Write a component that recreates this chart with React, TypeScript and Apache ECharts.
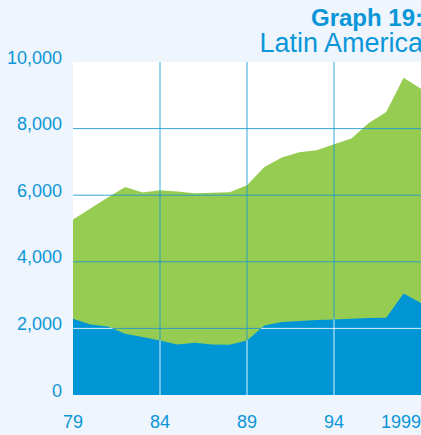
import React, { useEffect, useRef } from "react";
import * as echarts from "echarts";

const years = [1979, 1980, 1981, 1982, 1983, 1984, 1985, 1986, 1987, 1988, 1989, 1990, 1991, 1992, 1993, 1994, 1995, 1996, 1997, 1998, 1999];
const totalValues = [5270, 5600, 5930, 6250, 6080, 6150, 6110, 6060, 6070, 6090, 6300, 6850, 7130, 7290, 7350, 7530, 7700, 8170, 8500, 9530, 9200];
const lowerValues = [2290, 2120, 2060, 1840, 1740, 1640, 1520, 1570, 1520, 1510, 1640, 2090, 2190, 2220, 2250, 2270, 2290, 2310, 2320, 3050, 2760];
const xTickLabels = ["79", "84", "89", "94", "1999"];
const verticalGridYears = [1984, 1989, 1994];
const horizontalGridValues = [2000, 4000, 6000, 8000];
const titleLines = ["Graph 19:", "Latin America"];

const BG = "#eef5fc";
const BLUE = "#0096d6";
const GREEN = "#97cc52";
const TEXT = "#0a96d8";
const GRIDLINE = "#1596d4";

const base = years[0];
const xs = years.map((y) => y - base);

function interp(x: number): number {
  for (let i = 0; i < xs.length - 1; i++) {
    if (x >= xs[i] && x <= xs[i + 1]) {
      const t = (x - xs[i]) / (xs[i + 1] - xs[i]);
      return lowerValues[i] + t * (lowerValues[i + 1] - lowerValues[i]);
    }
  }
  return lowerValues[lowerValues.length - 1];
}

function segmentsAbove(v: number): Array<[number, number]> {
  const segs: Array<[number, number]> = [];
  let start: number | null = null;
  for (let i = 0; i < xs.length - 1; i++) {
    const x0 = xs[i], x1 = xs[i + 1];
    const y0 = lowerValues[i], y1 = lowerValues[i + 1];
    const in0 = y0 > v, in1 = y1 > v;
    if (in0 && start === null) start = x0;
    if (in0 !== in1) {
      const xc = x0 + ((v - y0) / (y1 - y0)) * (x1 - x0);
      if (in0) {
        segs.push([start as number, xc]);
        start = null;
      } else {
        start = xc;
      }
    }
  }
  if (start !== null) segs.push([start, xs[xs.length - 1]]);
  return segs;
}

type GridSpec = { kind: "v" | "h"; value: number };
const gridSpecs: GridSpec[] = [
  ...verticalGridYears.map((y) => ({ kind: "v" as const, value: y - base })),
  ...horizontalGridValues.map((v) => ({ kind: "h" as const, value: v })),
];
const gridData = gridSpecs.map((g) => (g.kind === "v" ? [g.value, 0] : [0, g.value]));

export default function App() {
  const ref = useRef<HTMLDivElement>(null);
  useEffect(() => {
    document.body.style.margin = "0";
    document.body.style.background = BG;
    const chart = echarts.init(ref.current!, null, { renderer: "svg" });
    const tickFont = "'Liberation Sans', Arial, sans-serif";
    chart.setOption({
      animation: false,
      backgroundColor: BG,
      grid: {
        left: 73,
        top: 62,
        right: 0,
        bottom: 40,
        show: true,
        backgroundColor: "#ffffff",
        borderWidth: 0,
        containLabel: false,
        outerBoundsMode: "none",
      },
      xAxis: {
        type: "value",
        min: 0,
        max: 20,
        interval: 5,
        axisLine: { show: false },
        axisTick: { show: false },
        splitLine: { show: false },
        axisLabel: {
          color: TEXT,
          fontFamily: tickFont,
          fontSize: 18,
          margin: 18,
          showMinLabel: true,
          showMaxLabel: true,
          hideOverlap: false,
          alignMaxLabel: "right",
          formatter: (v: number) => xTickLabels[Math.round(v / 5)],
        },
      },
      yAxis: {
        type: "value",
        min: 0,
        max: 10000,
        interval: 2000,
        axisLine: { show: false },
        axisTick: { show: false },
        splitLine: { show: false },
        axisLabel: {
          color: TEXT,
          fontFamily: tickFont,
          fontSize: 18,
          margin: 11,
          verticalAlign: "bottom",
          lineHeight: 9,
          formatter: (v: number) => v.toLocaleString("en-US"),
        },
      },
      graphic: [
        {
          type: "text",
          x: 423,
          y: 5,
          style: {
            text: titleLines[0],
            align: "right",
            verticalAlign: "top",
            font: "bold 24px 'Liberation Sans', Arial, sans-serif",
            lineHeight: 24,
            fill: TEXT,
          },
        },
        {
          type: "text",
          x: 423,
          y: 30,
          style: {
            text: titleLines[1],
            align: "right",
            verticalAlign: "top",
            font: "27px 'Liberation Sans', Arial, sans-serif",
            lineHeight: 26,
            fill: TEXT,
          },
        },
      ],
      series: [
        {
          type: "line",
          z: 1,
          data: xs.map((x, i) => [x, totalValues[i]]),
          showSymbol: false,
          lineStyle: { width: 0 },
          areaStyle: { color: GREEN, opacity: 1 },
          silent: true,
        },
        {
          type: "custom",
          z: 2,
          data: gridData,
          silent: true,
          renderItem: (params: any, api: any) => {
            const g = gridSpecs[params.dataIndex];
            let p0, p1;
            if (g.kind === "v") {
              p0 = api.coord([g.value, 0]);
              p1 = api.coord([g.value, 10000]);
            } else {
              p0 = api.coord([0, g.value]);
              p1 = api.coord([20, g.value]);
            }
            return {
              type: "line",
              shape: { x1: p0[0], y1: p0[1], x2: p1[0], y2: p1[1] },
              style: { stroke: GRIDLINE, lineWidth: 1, opacity: 0.85 },
            };
          },
        },
        {
          type: "line",
          z: 3,
          data: xs.map((x, i) => [x, lowerValues[i]]),
          showSymbol: false,
          lineStyle: { width: 0 },
          areaStyle: { color: BLUE, opacity: 1 },
          silent: true,
        },
        {
          type: "custom",
          z: 4,
          data: gridData,
          silent: true,
          renderItem: (params: any, api: any) => {
            const g = gridSpecs[params.dataIndex];
            const children: any[] = [];
            if (g.kind === "v") {
              const p0 = api.coord([g.value, 0]);
              const p1 = api.coord([g.value, interp(g.value)]);
              children.push({
                type: "line",
                shape: { x1: p0[0], y1: p0[1], x2: p1[0], y2: p1[1] },
                style: { stroke: "#ffffff", lineWidth: 1, opacity: 0.85 },
              });
            } else {
              for (const [a, b] of segmentsAbove(g.value)) {
                const p0 = api.coord([a, g.value]);
                const p1 = api.coord([b, g.value]);
                children.push({
                  type: "line",
                  shape: { x1: p0[0], y1: p0[1], x2: p1[0], y2: p1[1] },
                  style: { stroke: "#ffffff", lineWidth: 1, opacity: 0.85 },
                });
              }
            }
            return { type: "group", children };
          },
        },
      ],
    });
    return () => chart.dispose();
  }, []);
  return <div ref={ref} style={{ width: 421, height: 435 }} />;
}
